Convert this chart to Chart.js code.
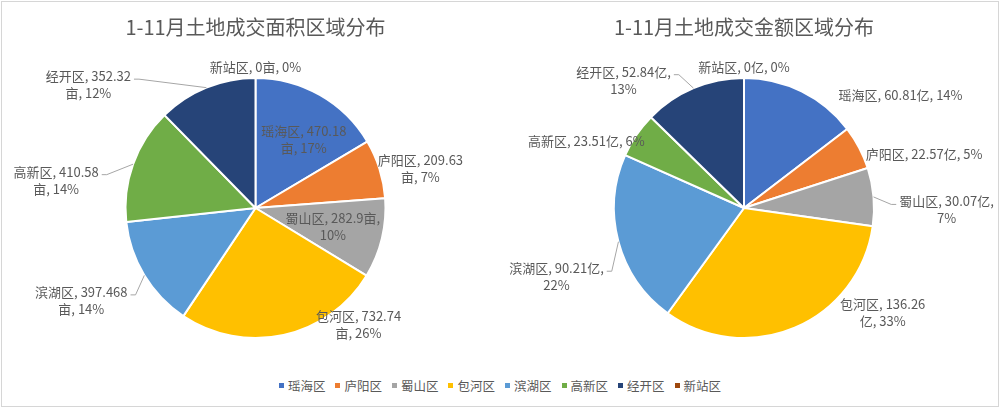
<!DOCTYPE html>
<html>
<head>
<meta charset="utf-8">
<script src="https://cdn.jsdelivr.net/npm/chart.js@4/dist/chart.umd.min.js"></script>
<style>
  body { margin: 0; background: #fff; }
  #wrap { position: relative; width: 1000px; height: 409px; overflow: hidden; font-family: "Noto Sans CJK SC", "Noto Sans", sans-serif; }
  #frame { position: absolute; left: 1px; top: 1px; width: 996px; height: 404px; border: 1px solid #d6d6d6; }
  .pie { position: absolute; top: 0; width: 500px; height: 370px; }
  #legend { position: absolute; left: 0; top: 376px; width: 1000px; display: flex; justify-content: center; font-size: 12.5px; color: #595959; }
  #legend span.item { display: flex; align-items: center; margin: 0 5px; }
  #legend span.box { display: inline-block; width: 5px; height: 5px; margin-right: 4px; }
</style>
</head>
<body>
<div id="wrap">
  <div id="frame"></div>
  <div class="pie" style="left:0"><canvas id="areaChart" width="500" height="370"></canvas></div>
  <div class="pie" style="left:500px"><canvas id="amountChart" width="500" height="370"></canvas></div>
  <div id="legend"></div>
</div>
<script>
// Districts and values (1-11月)
const districts = ["瑶海区", "庐阳区", "蜀山区", "包河区", "滨湖区", "高新区", "经开区", "新站区"];
const areaValues = [470.18, 209.63, 282.9, 732.74, 397.468, 410.58, 352.32, 0]; // 亩
const amountValues = [60.81, 22.57, 30.07, 136.26, 90.21, 23.51, 52.84, 0]; // 亿
const colors = ["#4472C4", "#ED7D31", "#A5A5A5", "#FFC000", "#5B9BD5", "#70AD47", "#264478", "#9E480E"];

// label placement, relative to the outer middle point of each slice
const areaLabelOffsets = [[-16, 45], [41, 0], [-49, -12], [75, -10], [-63, 25], [-77, 16], [-118, -3], [0, -11]];
const areaLeaders = [0, 0, 0, 0, 1, 1, 1, 0];
const areaWrap = [97, 97, 97, 97, 97, 97, 97, 97];
const amountLabelOffsets = [[99, 4], [65, 6], [73, 13], [88, -15], [-62, 35], [-50, 6], [-70, -8], [0, -11]];
const amountLeaders = [0, 0, 1, 0, 1, 0, 1, 0];
const amountWrap = [130, 130, 100, 100, 100, 130, 100, 130];

const textColor = "#595959";
const labelFont = '13px "Noto Sans CJK SC", sans-serif';

// Excel style percentages (largest remainder, sums to 100)
function percents(values) {
  const total = values.reduce((a, b) => a + b, 0);
  const raw = values.map((v) => (v / total) * 100);
  const out = raw.map(Math.floor);
  let left = 100 - out.reduce((a, b) => a + b, 0);
  const order = raw
    .map((r, i) => ({ i, rem: r - Math.floor(r) }))
    .sort((a, b) => b.rem - a.rem);
  for (let k = 0; k < left; k++) out[order[k].i]++;
  return out;
}

function wrapTokens(ctx, tokens, maxWidth) {
  const lines = [];
  let cur = "";
  tokens.forEach((t) => {
    const next = cur + t;
    if (cur && ctx.measureText(next).width > maxWidth) {
      lines.push(cur);
      cur = t.replace(/^ /, "");
    } else {
      cur = next;
    }
  });
  if (cur) lines.push(cur);
  return lines;
}

// draws the data labels and leader lines
const pieLabels = {
  id: "pieLabels",
  afterDatasetsDraw(chart, args, opts) {
    const ctx = chart.ctx;
    const values = chart.data.datasets[0].data;
    const pct = percents(values);
    const meta = chart.getDatasetMeta(0);
    ctx.save();
    ctx.font = labelFont;
    ctx.fillStyle = textColor;
    ctx.textAlign = "center";
    ctx.textBaseline = "middle";
    meta.data.forEach((arc, i) => {
      const p = arc.getProps(["x", "y", "startAngle", "endAngle", "outerRadius"], true);
      const mid = (p.startAngle + p.endAngle) / 2;
      const ex = p.x + Math.cos(mid) * p.outerRadius;
      const ey = p.y + Math.sin(mid) * p.outerRadius;
      const lx = ex + opts.offsets[i][0];
      const ly = ey + opts.offsets[i][1];
      const tokens = [districts[i] + ",", " " + values[i], opts.unit + ",", " " + pct[i] + "%"];
      const lines = wrapTokens(ctx, tokens, opts.wrap[i]);
      const lh = 17;
      const top = ly - (lines.length * lh) / 2;
      const w = Math.max(...lines.map((l) => ctx.measureText(l).width));
      lines.forEach((l, k) => ctx.fillText(l, lx, top + lh / 2 + k * lh));
      if (opts.leaders[i]) {
        const onRight = ex < lx;
        const ax = onRight ? lx - w / 2 - 3 : lx + w / 2 + 3;
        const ay = top + lh / 2 + 3;
        const bx = onRight ? ax - 5 : ax + 5;
        ctx.strokeStyle = "#a6a6a6";
        ctx.lineWidth = 1;
        ctx.beginPath();
        ctx.moveTo(ax, ay);
        ctx.lineTo(bx, ay);
        ctx.lineTo(ex, ey);
        ctx.stroke();
      }
    });
    ctx.restore();
  },
};

function createPie(canvasId, title, values, unit, offsets, leaders, wrap, padLeft, padRight) {
  return new Chart(document.getElementById(canvasId), {
    type: "pie",
    data: {
      labels: districts,
      datasets: [
        {
          data: values,
          backgroundColor: colors,
          borderColor: "#ffffff",
          borderWidth: 2,
        },
      ],
    },
    options: {
      responsive: false,
      animation: false,
      layout: { padding: { left: padLeft, right: padRight, top: 0, bottom: 31 } },
      plugins: {
        legend: { display: false },
        tooltip: { enabled: false },
        title: {
          display: true,
          text: title,
          color: textColor,
          font: { family: '"Noto Sans CJK SC", sans-serif', size: 20, weight: "normal" },
          padding: { top: 15, bottom: 38 },
        },
        pieLabels: { unit, offsets, leaders, wrap },
      },
    },
    plugins: [pieLabels],
  });
}

createPie("areaChart", "1-11月土地成交面积区域分布", areaValues, "亩", areaLabelOffsets, areaLeaders, areaWrap, 11, 0);
createPie("amountChart", "1-11月土地成交金额区域分布", amountValues, "亿", amountLabelOffsets, amountLeaders, amountWrap, 0, 12);

// shared legend
document.getElementById("legend").innerHTML = districts
  .map((d, i) => `<span class="item"><span class="box" style="background:${colors[i]}"></span>${d}</span>`)
  .join("");
</script>
</body>
</html>
